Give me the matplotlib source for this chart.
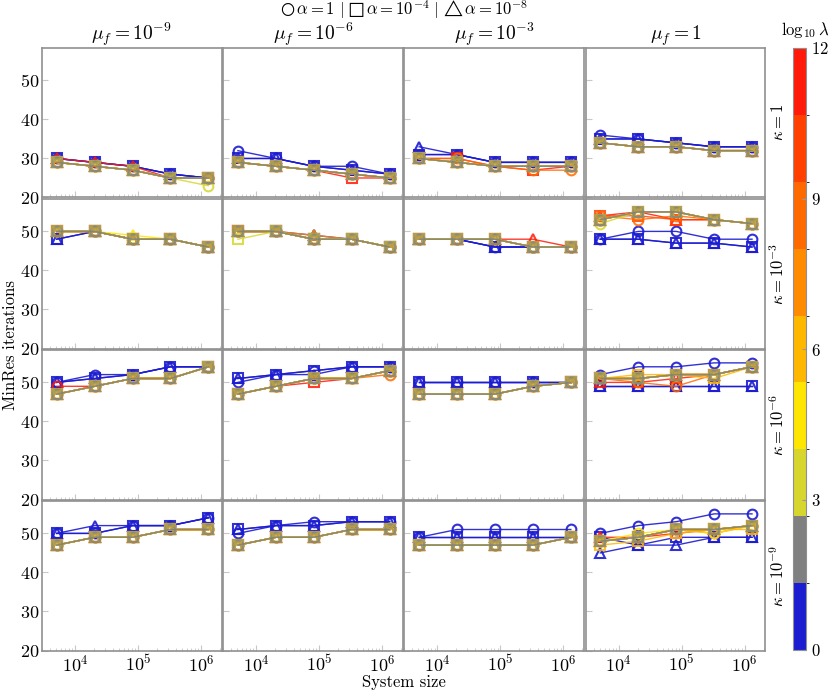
import numpy as np
import matplotlib.pyplot as plt
from matplotlib.colors import ListedColormap, BoundaryNorm
from matplotlib.cm import ScalarMappable
from matplotlib.ticker import LogLocator, NullFormatter

plt.rcParams.update({
    'font.family': 'serif',
    'font.serif': ['cmr10', 'DejaVu Serif'],
    'mathtext.fontset': 'cm',
    'axes.unicode_minus': False,
    'axes.formatter.use_mathtext': True,
})

sizes = [5120, 20480, 81920, 327680, 1310720]
mu_labels = [r'$\mu_f = 10^{-9}$', r'$\mu_f = 10^{-6}$', r'$\mu_f = 10^{-3}$', r'$\mu_f = 1$']
kappa_labels = [r'$\kappa = 1$', r'$\kappa = 10^{-3}$', r'$\kappa = 10^{-6}$', r'$\kappa = 10^{-9}$']
log_lambda = [0, 1.5, 3, 4.5, 6, 7.5, 9, 10.5, 12]
lambda_colors = ['#1c1cd0', '#808080', '#d6d62e', '#ffe600', '#ffb800',
                 '#ff8c00', '#ff6a00', '#ff4000', '#ff1a0a']
alpha_markers = ['o', 's', '^']

# lambda = 1 (blue): [row][col] -> alpha = 1, 1e-4, 1e-8
blue_iters = [
    [[[30, 29, 28, 26, 25], [30, 29, 28, 26, 25], [30, 29, 28, 26, 25]],
     [[32, 30, 28, 28, 26], [30, 30, 28, 27, 26], [30, 30, 28, 27, 26]],
     [[31, 31, 29, 29, 29], [31, 31, 29, 29, 29], [33, 31, 29, 29, 29]],
     [[36, 35, 34, 33, 33], [35, 35, 34, 33, 33], [35, 35, 34, 33, 33]]],
    [[[50, 50, 48, 48, 46], [48, 50, 48, 48, 46], [48, 50, 48, 48, 46]],
     [[50, 50, 48, 48, 46], [50, 50, 48, 48, 46], [50, 50, 49, 48, 46]],
     [[48, 48, 46, 46, 46], [48, 48, 46, 46, 46], [48, 48, 46, 46, 46]],
     [[48, 50, 50, 48, 48], [48, 48, 47, 47, 46], [48, 48, 47, 47, 46]]],
    [[[50, 52, 52, 54, 54], [50, 51, 52, 54, 54], [50, 51, 52, 54, 54]],
     [[50, 52, 53, 54, 54], [51, 52, 53, 54, 54], [51, 52, 52, 54, 54]],
     [[50, 50, 50, 50, 50], [50, 50, 50, 50, 50], [50, 50, 50, 50, 50]],
     [[52, 54, 54, 55, 55], [49, 49, 49, 49, 49], [49, 49, 49, 49, 49]]],
    [[[50, 50, 52, 52, 54], [50, 50, 52, 52, 54], [50, 52, 52, 52, 54]],
     [[50, 52, 53, 53, 53], [51, 52, 52, 53, 53], [51, 52, 52, 53, 53]],
     [[49, 51, 51, 51, 51], [49, 49, 49, 49, 49], [49, 49, 49, 49, 49]],
     [[50, 52, 53, 55, 55], [49, 47, 49, 49, 49], [45, 47, 47, 49, 49]]],
]

# all other lambdas share these values unless listed in deviations
rest_iters = [
    [[29, 28, 27, 25, 25], [29, 28, 27, 26, 25], [30, 29, 28, 28, 28], [34, 33, 33, 32, 32]],
    [[50, 50, 48, 48, 46], [50, 50, 48, 48, 46], [48, 48, 48, 46, 46], [53, 55, 55, 53, 52]],
    [[47, 49, 51, 51, 54], [47, 49, 51, 51, 53], [47, 47, 47, 49, 50], [51, 51, 52, 52, 54]],
    [[47, 49, 49, 51, 51], [47, 49, 49, 51, 51], [47, 47, 47, 47, 49], [48, 49, 51, 51, 52]],
]

# (row, col, lambda index, alpha index, values)
deviations = [
    (0, 0, 2, 0, [29, 28, 27, 25, 23]),
    (0, 0, 8, 2, [30, 29, 28, 25, 25]),
    (0, 1, 8, 1, [29, 28, 27, 25, 25]),
    (0, 2, 8, 1, [30, 30, 28, 27, 28]),
    (0, 2, 6, 0, [30, 30, 28, 27, 27]),
    (1, 0, 3, 2, [50, 50, 49, 48, 46]),
    (1, 1, 2, 1, [48, 50, 48, 48, 46]),
    (1, 1, 5, 2, [50, 50, 49, 48, 46]),
    (1, 2, 8, 2, [48, 48, 48, 48, 46]),
    (1, 3, 8, 2, [54, 55, 53, 53, 52]),
    (1, 3, 6, 0, [54, 53, 54, 53, 52]),
    (1, 3, 7, 1, [54, 54, 53, 53, 52]),
    (1, 3, 2, 0, [52, 55, 55, 53, 52]),
    (2, 0, 8, 0, [49, 49, 51, 51, 54]),
    (2, 1, 8, 1, [47, 49, 50, 51, 53]),
    (2, 1, 6, 0, [47, 49, 51, 51, 52]),
    (2, 3, 8, 2, [50, 50, 51, 52, 54]),
    (2, 3, 6, 0, [51, 50, 49, 52, 54]),
    (2, 3, 4, 1, [51, 52, 52, 51, 54]),
    (3, 3, 8, 2, [49, 49, 50, 51, 52]),
    (3, 3, 6, 0, [48, 49, 51, 50, 52]),
    (3, 3, 4, 1, [47, 48, 50, 51, 51]),
    (3, 3, 3, 0, [48, 50, 51, 50, 52]),
]

W, H = 831, 690
fig = plt.figure(figsize=(W / 100, H / 100), dpi=100)


def px_axes(x0, y0, w, h):
    return fig.add_axes([x0 / W, 1 - (y0 + h) / H, w / W, h / H])


dev = {(r, c, l, a): v for r, c, l, a, v in deviations}
col_left = [42, 223.2, 404.4, 585.6]
row_top = [48, 199, 350, 501]
pw, ph = 179.6, 149.5
# bottom to top; overlapping markers end up a dark gold
draw_order = [0, 8, 7, 6, 3, 5, 4, 2, 1]

for r in range(4):
    for c in range(4):
        ax = px_axes(col_left[c], row_top[r], pw, ph)
        for li in draw_order:
            for ai, mk in enumerate(alpha_markers):
                if li == 0:
                    vals, a = blue_iters[r][c][ai], 0.9
                elif (r, c, li, ai) in dev:
                    vals, a = dev[(r, c, li, ai)], 0.85
                else:
                    vals, a = rest_iters[r][c], 0.5
                ax.plot(sizes, vals, color=lambda_colors[li], marker=mk,
                        mfc='none', mec=lambda_colors[li], ms=7, mew=1.5,
                        lw=1.0, alpha=a)
        ax.set_xscale('log')
        ax.set_xlim(10 ** 3.476, 10 ** 6.327)
        ax.set_ylim(20, 58.3)
        ax.set_yticks([20, 30, 40, 50])
        ax.xaxis.set_major_locator(LogLocator(base=10, numticks=10))
        ax.xaxis.set_minor_locator(LogLocator(base=10, subs=np.arange(2, 10), numticks=20))
        ax.xaxis.set_minor_formatter(NullFormatter())
        ax.tick_params(which='both', direction='in', color='#c8c8c8',
                       labelsize=13, top=False, right=False, pad=2)
        ax.tick_params(which='major', length=4)
        ax.tick_params(which='minor', length=2)
        for s in ax.spines.values():
            s.set_color('#909090')
            s.set_linewidth(1.2)
        if c > 0:
            ax.set_yticklabels([])
        if r < 3:
            ax.set_xticklabels([])
        if r == 0:
            ax.set_title(mu_labels[c], fontsize=14, pad=2)
        if c == 3:
            ax.text(1.07, 0.5, kappa_labels[r], transform=ax.transAxes,
                    rotation=90, ha='center', va='center', fontsize=12)

fig.text(404 / W, 1 - 10 / H,
         '$\u25cb\\,\\alpha = 1\\,\\,|\\,\\,\u25a1\\,\\alpha = 10^{-4}\\,\\,|\\,\\,\u25b3\\,\\alpha = 10^{-8}$',
         ha='center', va='center', fontsize=12)
fig.text(10 / W, 0.5, 'MinRes iterations', rotation=90, ha='center', va='center', fontsize=12)
fig.text(404 / W, 1 - 682 / H, 'System size', ha='center', va='center', fontsize=12)

cax = px_axes(793, 48, 13, 602)
cmap = ListedColormap(lambda_colors)
norm = BoundaryNorm(np.linspace(0, 12, len(lambda_colors) + 1), cmap.N)
cb = fig.colorbar(ScalarMappable(norm=norm, cmap=cmap), cax=cax, ticks=[0, 3, 6, 9, 12])
cb.outline.set_edgecolor('#909090')
cb.outline.set_linewidth(0.8)
cax.tick_params(length=3, color='#999999', labelsize=12, direction='in')
fig.text(829 / W, 1 - 40 / H, r'$\log_{10}\lambda$', ha='right', va='bottom', fontsize=12)

fig.savefig('out.png', dpi=100)
